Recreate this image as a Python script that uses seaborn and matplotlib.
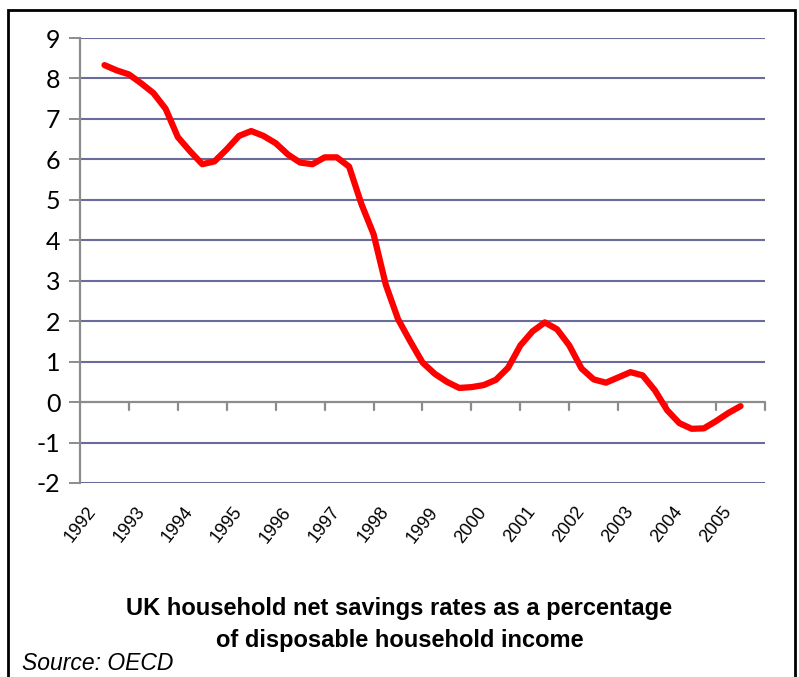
import numpy as np
import pandas as pd
import matplotlib
matplotlib.use("Agg")
import matplotlib.pyplot as plt
import matplotlib.transforms as mtrans
from matplotlib.patches import Rectangle
import seaborn as sns

years = ["1992", "1993", "1994", "1995", "1996", "1997", "1998",
         "1999", "2000", "2001", "2002", "2003", "2004", "2005"]
# quarterly savings ratio, 1992Q1 .. 2005Q1
savings = [8.33, 8.20, 8.10, 7.88, 7.64, 7.25, 6.55, 6.20, 5.88, 5.95,
           6.25, 6.58, 6.70, 6.58, 6.40, 6.12, 5.92, 5.88, 6.05, 6.05,
           5.82, 4.90, 4.15, 2.90, 2.05, 1.50, 0.98, 0.70, 0.50, 0.35,
           0.37, 0.42, 0.55, 0.85, 1.40, 1.75, 1.97, 1.80, 1.40, 0.83,
           0.56, 0.48, 0.61, 0.74, 0.66, 0.29, -0.20, -0.52, -0.66, -0.65,
           -0.47, -0.27, -0.10]
y_ticks = [9, 8, 7, 6, 5, 4, 3, 2, 1, 0, -1, -2]

df = pd.DataFrame({"t": 0.5 + np.arange(len(savings)) / 4.0, "v": savings})

sns.set_theme(style="white")
plt.rcParams["font.family"] = ["Lato", "DejaVu Sans"]
plt.rcParams["text.color"] = "black"
plt.rcParams["xtick.color"] = "black"
plt.rcParams["ytick.color"] = "black"

fig = plt.figure(figsize=(7.99, 6.77), dpi=100)
ax = fig.add_axes([80/799, 1 - 483/677, (765-80)/799, (483-38)/677])

grid_c = "#6b6b9b"
for yv in y_ticks:
    if yv != 0:
        ax.axhline(yv, color=grid_c, lw=1.5, zorder=1)
ax.axhline(0, color="#8c8c8c", lw=1.6, zorder=1)

sns.lineplot(data=df, x="t", y="v", ax=ax, color="#ff0000", lw=4.5,
             solid_capstyle="round", solid_joinstyle="round", zorder=3)

ax.set_xlim(0, len(years))
ax.set_ylim(-2, 9)
ax.set_yticks(y_ticks)
ax.set_yticklabels([str(v) for v in y_ticks], fontsize=18, color="black")
ax.set_xlabel("")
ax.set_ylabel("")

for s in ["top", "right", "bottom"]:
    ax.spines[s].set_visible(False)
ax.spines["left"].set_color("#8c8c8c")
ax.spines["left"].set_linewidth(1.6)
ax.tick_params(axis="y", which="major", direction="out", length=8, width=1.4,
               color="#8c8c8c", labelcolor="black", pad=6, left=True)

# x axis labels at category centers
ax.set_xticks(np.arange(len(years)) + 0.5)
ax.set_xticklabels(years, rotation=52, ha="right", va="center",
                   rotation_mode="anchor", fontsize=13, color="black",
                   family=["Liberation Sans", "DejaVu Sans"])
ax.tick_params(axis="x", which="major", length=0, pad=0)
offset = mtrans.ScaledTranslation(-12/100, -26/100, fig.dpi_scale_trans)
for lab in ax.get_xticklabels():
    lab.set_transform(lab.get_transform() + offset)

# category boundary ticks along the zero line
for xb in range(1, len(years) + 1):
    ax.plot([xb, xb], [0, -0.2], color="#8c8c8c", lw=1.6, zorder=2,
            clip_on=False)

tfam = ["Liberation Sans", "DejaVu Sans"]
fig.text(0.5, 1 - 608/677,
         "UK household net savings rates as a percentage",
         ha="center", va="center", fontsize=17, fontweight="bold",
         family=tfam, color="black")
fig.text(0.5, 1 - 641/677, "of disposable household income",
         ha="center", va="center", fontsize=17, fontweight="bold",
         family=tfam, color="black")
fig.text(22/799, 1 - 664/677, "Source: OECD", ha="left", va="center",
         fontsize=16.5, style="italic", family=tfam, color="black")

fig.patches.append(Rectangle((8/799, -0.05), (795-8)/799, 1.05 - 10/677,
                             transform=fig.transFigure, fill=False,
                             edgecolor="black", lw=2.0))

fig.savefig("out.png", dpi=100)
